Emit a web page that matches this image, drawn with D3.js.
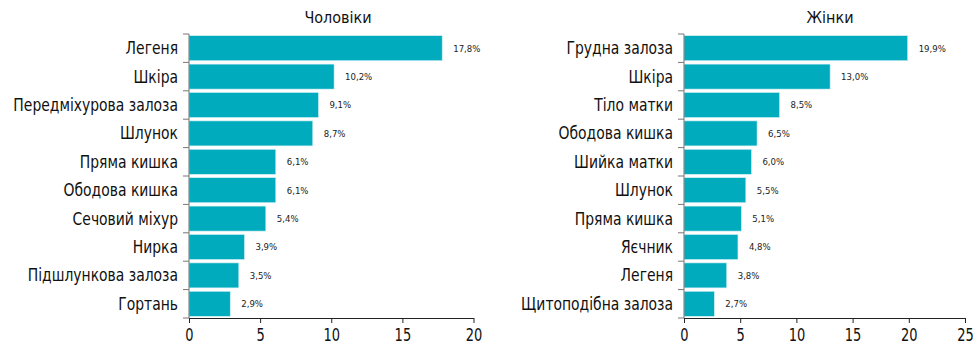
<!DOCTYPE html>
<html><head><meta charset="utf-8">
<script src="https://cdn.jsdelivr.net/npm/d3@7"></script>
<style>
body{margin:0;background:#fff;}
text{font-family:"DejaVu Sans Condensed","DejaVu Sans",sans-serif;}
</style></head>
<body><svg id="c" width="980" height="354"></svg>
<script>
const menCategories = ["Легеня","Шкіра","Передміхурова залоза","Шлунок","Пряма кишка","Ободова кишка","Сечовий міхур","Нирка","Підшлункова залоза","Гортань"];
const menValues = [17.8,10.2,9.1,8.7,6.1,6.1,5.4,3.9,3.5,2.9];
const menTicks = [0,5,10,15,20];
const womenCategories = ["Грудна залоза","Шкіра","Тіло матки","Ободова кишка","Шийка матки","Шлунок","Пряма кишка","Яєчник","Легеня","Щитоподібна залоза"];
const womenValues = [19.9,13.0,8.5,6.5,6.0,5.5,5.1,4.8,3.8,2.7];
const womenTicks = [0,5,10,15,20,25];
const titles = ["Чоловіки","Жінки"];

const svg = d3.select("#c");
const color = "#00abbd";
const fmt = v => d3.format(".1f")(v).replace(".", ",") + "%";
const sxCat = 0.91, sxTick = 0.85;

function panel(x0, x1, max, cats, vals, ticks, title, titleX){
  const top = 34, bottom = 318;
  const x = d3.scaleLinear().domain([0,max]).range([x0,x1]);
  const y = d3.scaleBand().domain(cats).range([top,bottom]).paddingInner(0.12).paddingOuter(0.06);
  const g = svg.append("g");
  g.selectAll("rect.bar").data(vals).join("rect")
    .attr("x", x(0)).attr("y",(d,i)=>y(cats[i]))
    .attr("width", d=>x(d)-x(0)).attr("height", y.bandwidth())
    .attr("fill", color).attr("stroke","#cdeff3").attr("stroke-width",0.6);
  g.selectAll("text.val").data(vals).join("text")
    .attr("x", d=>x(d)+11).attr("y",(d,i)=>y(cats[i])+y.bandwidth()/2)
    .attr("dy","0.35em").attr("font-size",9.5).attr("fill","#222")
    .text(fmt);
  const step = (bottom-top)/cats.length;
  g.append("line").attr("x1",x0).attr("x2",x0).attr("y1",top).attr("y2",bottom).attr("stroke","#777").attr("stroke-width",1);
  g.selectAll("line.yt").data(d3.range(cats.length+1)).join("line")
    .attr("x1",x0-6).attr("x2",x0).attr("y1",i=>top+i*step).attr("y2",i=>top+i*step)
    .attr("stroke","#777");
  g.selectAll("text.cat").data(cats).join("text")
    .attr("transform",d=>`translate(${x0-11},${y(d)+y.bandwidth()/2}) scale(${sxCat},1)`)
    .attr("dy","0.35em")
    .attr("text-anchor","end").attr("font-size",17).attr("fill","#111").text(d=>d);
  const xa = g.append("g").attr("transform",`translate(0,${bottom})`)
    .call(d3.axisBottom(x).tickValues(ticks).tickSize(5).tickSizeOuter(0).tickPadding(6));
  xa.select(".domain").attr("stroke","#222");
  xa.selectAll(".tick line").attr("stroke","#222");
  xa.selectAll("text").attr("font-size",17).attr("fill","#111")
    .attr("transform",`scale(${sxTick},1)`).attr("x",0)
    .style("font-family","'DejaVu Sans Condensed',sans-serif");
  g.append("text").attr("x",titleX).attr("y",23).attr("text-anchor","middle")
    .attr("font-size",16).attr("fill","#111").text(title);
}
panel(189, 473.5, 20, menCategories, menValues, menTicks, titles[0], 338);
panel(684, 965, 25, womenCategories, womenValues, womenTicks, titles[1], 830);
</script></body></html>
